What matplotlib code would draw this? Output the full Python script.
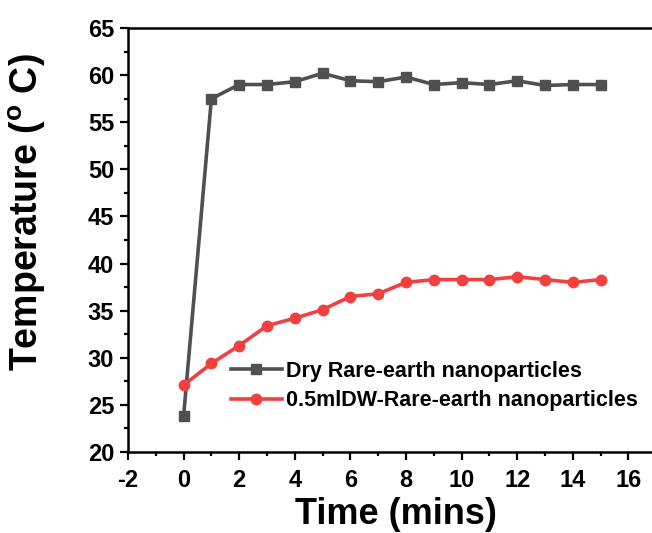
import matplotlib
matplotlib.use("Agg")
import matplotlib.pyplot as plt
from matplotlib.ticker import MultipleLocator

time = [0, 1, 2, 3, 4, 5, 6, 7, 8, 9, 10, 11, 12, 13, 14, 15]
dry = [23.8, 57.5, 59.0, 59.0, 59.3, 60.2, 59.4, 59.3, 59.8, 59.0, 59.2, 59.0, 59.4, 58.9, 59.0, 59.0]
wet = [27.1, 29.4, 31.3, 33.4, 34.2, 35.1, 36.5, 36.8, 38.0, 38.3, 38.3, 38.3, 38.6, 38.3, 38.0, 38.3]
labels = ["Dry Rare-earth nanoparticles", "0.5mlDW-Rare-earth nanoparticles"]
xticks = [-2, 0, 2, 4, 6, 8, 10, 12, 14, 16]

plt.rcParams['font.family'] = ['Liberation Sans', 'DejaVu Sans']
plt.rcParams['font.weight'] = 'bold'
plt.rcParams['axes.unicode_minus'] = False
plt.rcParams['mathtext.fontset'] = 'custom'
plt.rcParams['mathtext.rm'] = 'Liberation Sans:bold'
plt.rcParams['mathtext.bf'] = 'Liberation Sans:bold'

W, H = 652, 533
fig = plt.figure(figsize=(W / 100, H / 100), dpi=100)
x0, x1 = -2, 18
ppu = 27.8
axw = (x1 - x0) * ppu
left = 128 / W
bottom = (H - 452) / H
top = (H - 28) / H
ax = fig.add_axes([left, bottom, axw / W, top - bottom])

ax.plot(time, dry, color='#505050', lw=2.6, marker='s', ms=7.5, label=labels[0])
ax.plot(time, wet, color='#f04040', lw=2.6, marker='o', ms=7.5, label=labels[1])

ax.set_xlim(x0, x1)
ax.set_ylim(20, 65)
ax.set_xticks(xticks)
ax.xaxis.set_minor_locator(MultipleLocator(1))
ax.yaxis.set_major_locator(MultipleLocator(5))
ax.yaxis.set_minor_locator(MultipleLocator(2.5))
ax.tick_params(which='major', direction='out', length=6, width=1.6, labelsize=17)
ax.tick_params(axis='x', which='major', pad=6)
ax.tick_params(axis='y', which='major', pad=4)
ax.tick_params(which='minor', direction='out', length=3, width=1.6)
ax.tick_params(top=False, right=False)
for lab in ax.get_xticklabels() + ax.get_yticklabels():
    lab.set_fontweight('bold')
for s in ax.spines.values():
    s.set_linewidth(1.8)

ax.set_xlabel('Time (mins)', fontsize=26, fontweight='bold')
ax.xaxis.set_label_coords((396 - 128) / axw, (452 - 497) / 424)
ax.set_ylabel(r'Temperature (${^{\mathbf{o}}}$ C)', fontsize=27, fontweight='bold')
ax.yaxis.set_label_coords((48 - 128) / axw, (452 - 212) / 424)

leg = ax.legend(loc='upper left', bbox_to_anchor=((222 - 128) / axw, (452 - 352) / (452 - 28)),
                frameon=False, fontsize=15.5, handlelength=2.4, handletextpad=0.15,
                labelspacing=0.4, borderaxespad=0)
for t in leg.get_texts():
    t.set_fontweight('bold')

fig.savefig('out.png', dpi=100)
